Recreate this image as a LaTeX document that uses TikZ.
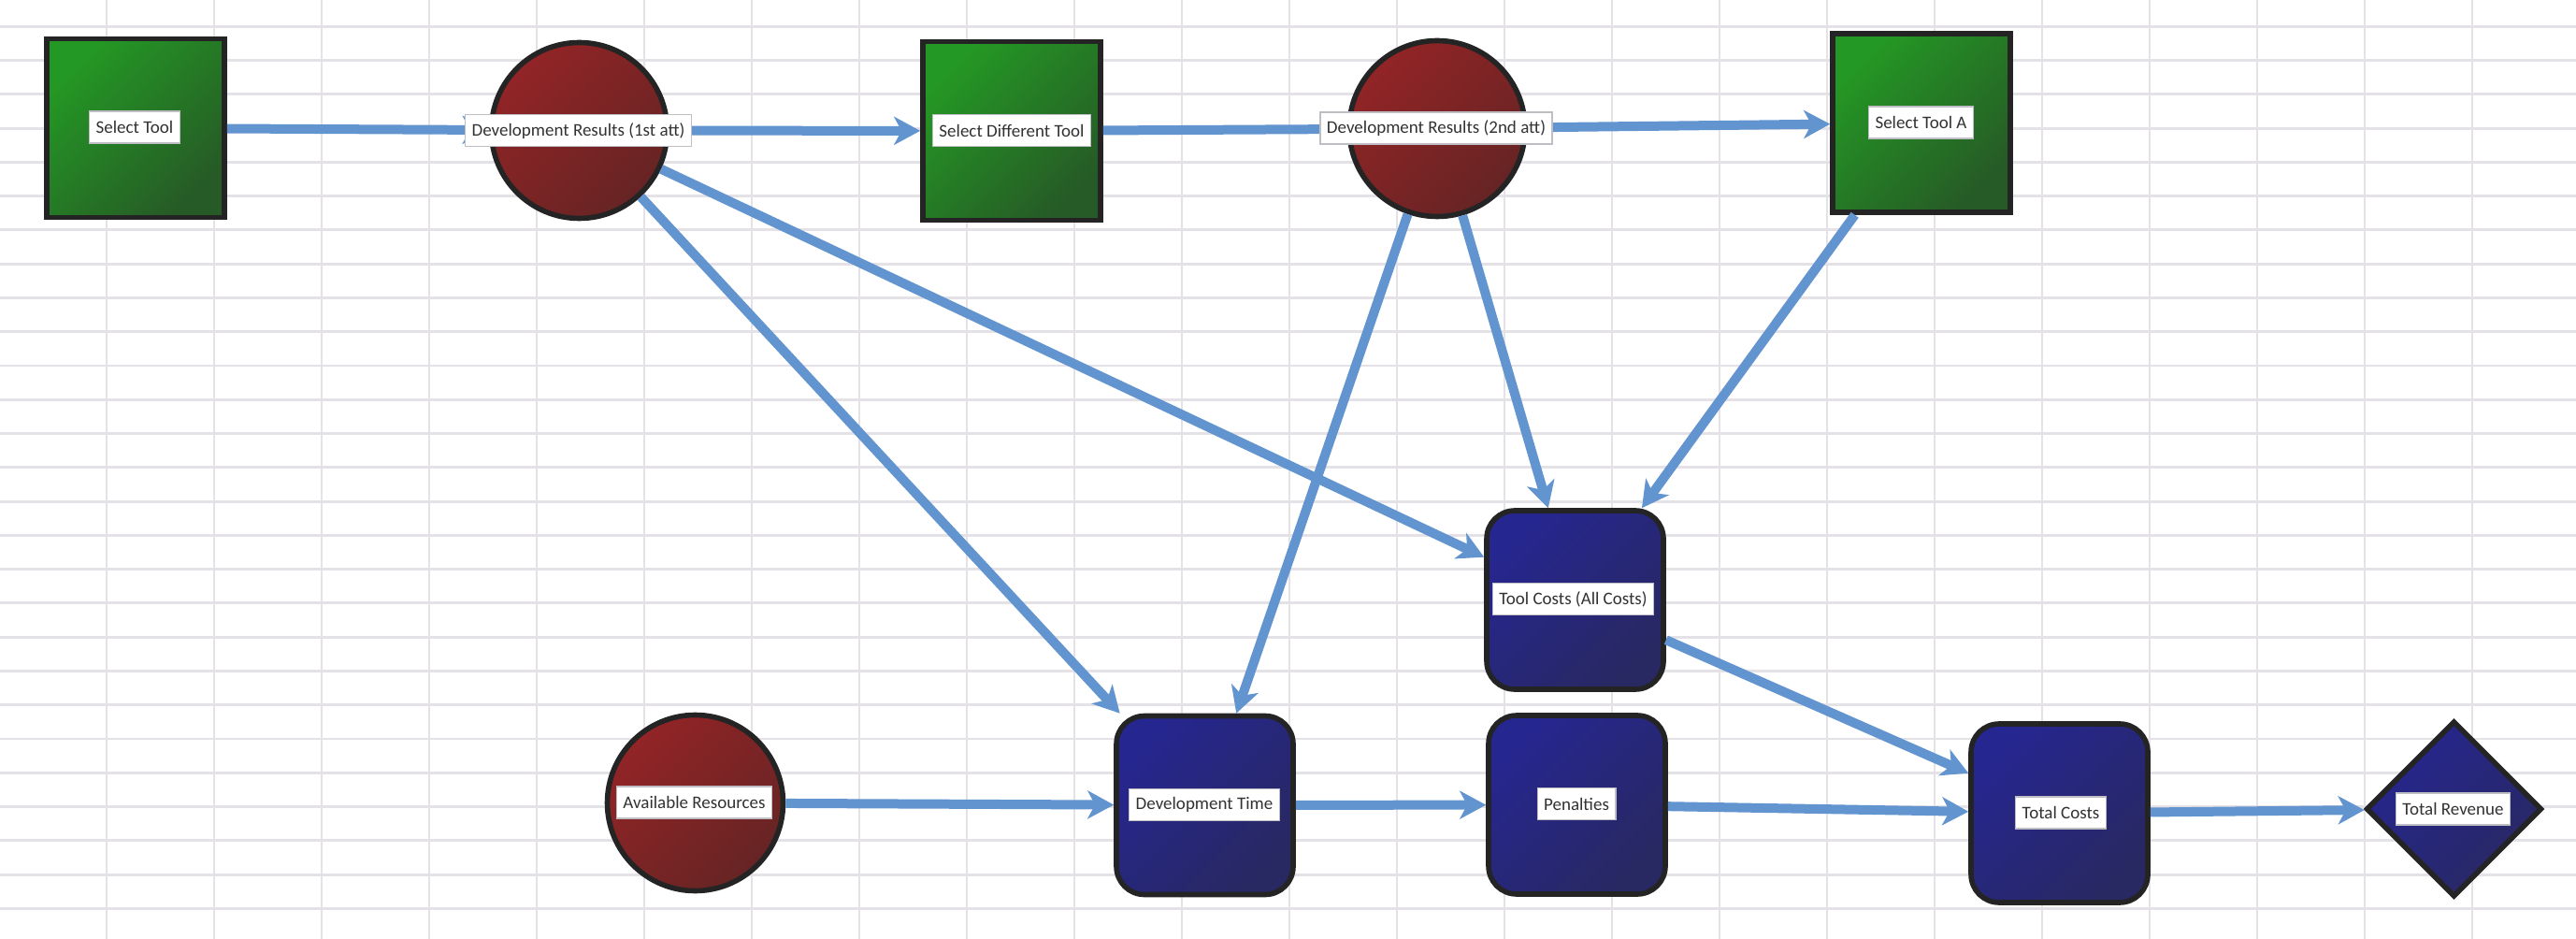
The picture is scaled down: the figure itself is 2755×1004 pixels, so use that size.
\documentclass[tikz,border=0pt]{standalone}
\usepackage{fontspec}
\setmainfont{Carlito}
\usetikzlibrary{shapes.geometric,arrows.meta}
\definecolor{gridc}{RGB}{228,226,230}
\definecolor{arrc}{RGB}{98,148,208}
\definecolor{gA}{RGB}{36,152,36}
\definecolor{gB}{RGB}{38,90,38}
\definecolor{rA}{RGB}{146,36,38}
\definecolor{rB}{RGB}{102,36,36}
\definecolor{bA}{RGB}{38,38,144}
\definecolor{bB}{RGB}{40,40,98}
\definecolor{edgec}{RGB}{36,36,36}
\definecolor{lblb}{RGB}{190,190,196}
\definecolor{txtc}{RGB}{50,50,50}
\begin{document}
\begin{tikzpicture}[x=0.5pt,y=-0.5pt,
  gridline/.style={draw=gridc, line width=1.45pt},
  base/.style={draw=edgec, line width=2.8pt, inner sep=0pt},
  greenbox/.style={base, rectangle, top color=gA, bottom color=gB, shading angle=45,
    minimum width=95pt, minimum height=95.5pt},
  bluebox/.style={base, rectangle, rounded corners=15pt, top color=bA, bottom color=bB, shading angle=45,
    minimum width=94.5pt, minimum height=95.5pt},
  redcirc/.style={base, circle, top color=rA, bottom color=rB, shading angle=45,
    minimum size=94pt},
  bluediam/.style={base, diamond, top color=bA, bottom color=bB, shading angle=45,
    minimum width=94pt, minimum height=94pt},
  lbl/.style={draw=lblb, line width=0.6pt, fill=white, text=txtc,
    font=\fontsize{9.5pt}{11pt}\selectfont, inner xsep=3.5pt, inner ysep=0pt,
    minimum height=17pt},
  arr/.style={draw=arrc, line width=5pt, -{Stealth[length=14pt,width=15pt,inset=4pt]}}
]
\useasboundingbox (0,0) rectangle (2755,1004);
\fill[white] (0,0) rectangle (2755,1004);
% grid
\foreach \k in {0,...,22} \draw[gridline] ({114+115*\k},0) -- ({114+115*\k},1004);
\foreach \k in {0,...,26} \draw[gridline] (0,{28.3+36.27*\k}) -- (2755,{28.3+36.27*\k});
% shapes
\node[greenbox] (st)  at (145,137) {};
\node[redcirc]  (dr1) at (619.5,139.5) {};
\node[greenbox] (sdt) at (1082,140) {};
\node[redcirc]  (dr2) at (1537,137.5) {};
\node[greenbox] (sta) at (2055,131.5) {};
\node[bluebox]  (tc)  at (1684.5,641.5) {};
\node[redcirc]  (ar)  at (743.5,858.5) {};
\node[bluebox]  (dt)  at (1288.5,861) {};
\node[bluebox]  (pen) at (1686.5,860.5) {};
\node[bluebox]  (tot) at (2202.5,869.5) {};
\node[bluediam] (rev) at (2624.5,865) {};
% connectors
\draw[arr] (st) -- (dr1);
\draw[arr] (dr1) -- (sdt);
\draw[arr] (sdt) -- (dr2);
\draw[arr] (dr2) -- (sta);
\draw[arr] (dr1) -- (tc);
\draw[arr] (dr1) -- (dt);
\draw[arr] (dr2) -- (dt);
\draw[arr] (dr2) -- (tc);
\draw[arr] (sta) -- (tc);
\draw[arr] (tc) -- (tot);
\draw[arr] (ar) -- (dt);
\draw[arr] (dt) -- (pen);
\draw[arr] (pen) -- (tot);
\draw[arr] (tot) -- (rev);
% labels
\node[lbl] (st-l)  at (144,136) {Select Tool};
\node[lbl] (dr1-l) at (618.5,139.7) {Development Results (1st att)};
\node[lbl] (sdt-l) at (1082,139.5) {Select Different Tool};
\node[lbl] (dr2-l) at (1536,137) {Development Results (2nd att)};
\node[lbl] (sta-l) at (2054.5,131) {Select Tool A};
\node[lbl] (tc-l)  at (1682.5,640.5) {Tool Costs (All Costs)};
\node[lbl] (ar-l)  at (742.5,858) {Available Resources};
\node[lbl] (dt-l)  at (1288,860.5) {Development Time};
\node[lbl] (pen-l) at (1686,859.5) {Penalties};
\node[lbl] (tot-l) at (2204,869) {Total Costs};
\node[lbl] (rev-l) at (2623.5,865) {Total Revenue};
\end{tikzpicture}
\end{document}
